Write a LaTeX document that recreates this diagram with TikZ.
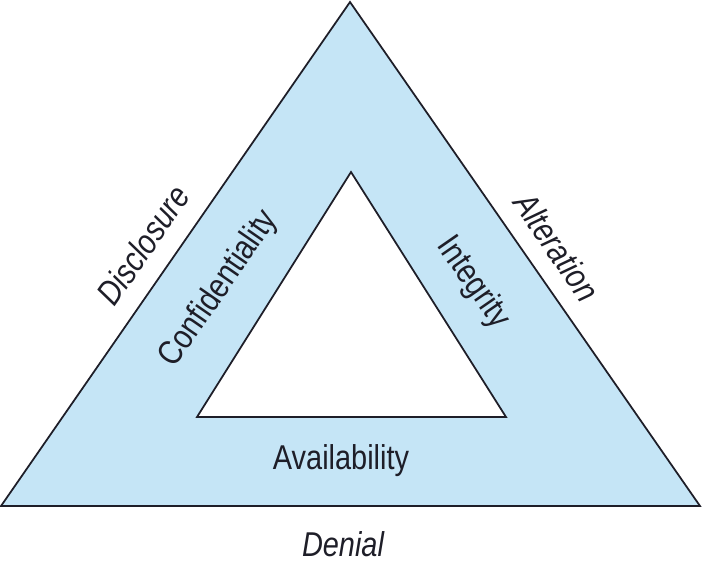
\documentclass[tikz,border=0pt]{standalone}
\usepackage{fontspec}
\setmainfont{Liberation Sans}[FakeStretch=0.84]
\definecolor{triblue}{RGB}{197,229,246}
\definecolor{inkdark}{RGB}{30,30,40}
\tikzset{>=latex}
\tikzset{
  edgeline/.style={draw=inkdark, line width=1pt, line join=miter},
  outerlbl/.style={font=\fontsize{19.6}{22}\selectfont\itshape, text=inkdark},
  innerlbl/.style={font=\fontsize{19.6}{22}\selectfont, text=inkdark}
}

\begin{document}
\begin{tikzpicture}[x=0.02cm, y=-0.02cm]
      \useasboundingbox (0,0) rectangle (702,566);
      % outer triangle
      \coordinate (o1) at (350,2);
      \coordinate (o2) at (1,506);
      \coordinate (o3) at (700,506);
      % inner triangle
      \coordinate (i1) at (351,172);
      \coordinate (i2) at (197,417);
      \coordinate (i3) at (506,417);
      \fill[triblue] (o1) -- (o2) -- (o3) -- cycle;
      \fill[white] (i1) -- (i2) -- (i3) -- cycle;
      \draw[edgeline] (o1) -- (o2) -- (o3) -- cycle;
      \draw[edgeline] (i1) -- (i2) -- (i3) -- cycle;
      % labels
      \node[outerlbl, rotate=55.3] (disc) at (143,245) {Disclosure};
      \node[outerlbl, rotate=-55.3] (alt) at (557,247) {Alteration};
      \node[outerlbl] (den) at (343,544) {Denial};
      \node[innerlbl, rotate=55.3] (conf) at (219,289) {Confidentiality};
      \node[innerlbl, rotate=-55.3] (integ) at (473,283) {Integrity};
      \node[innerlbl] (avail) at (341,461) {Availability};
    \end{tikzpicture}
\end{document}
